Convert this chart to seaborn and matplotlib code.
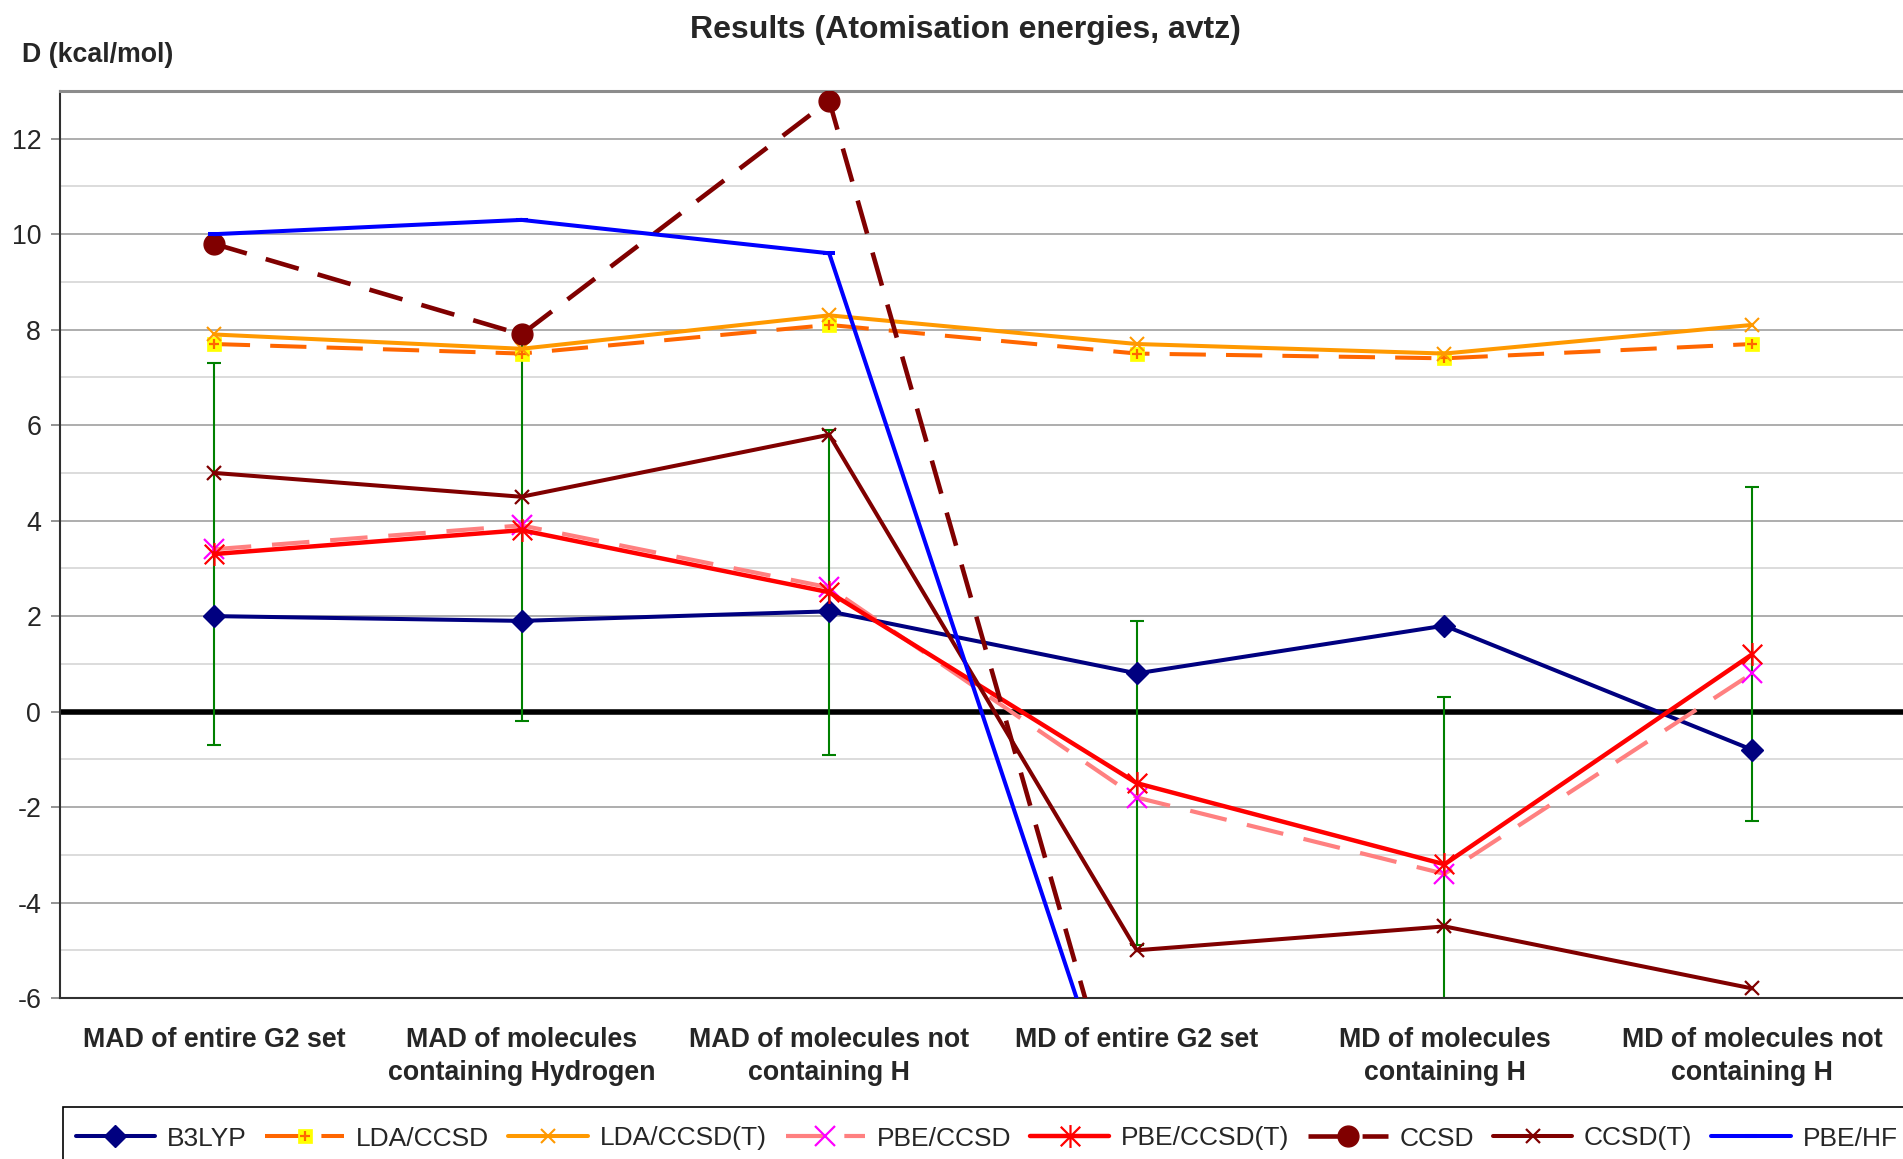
import numpy as np
import matplotlib
matplotlib.use("Agg")
import matplotlib.pyplot as plt
import seaborn as sns
from matplotlib.lines import Line2D
from matplotlib.path import Path
from matplotlib.patches import Rectangle
from matplotlib.legend_handler import HandlerTuple
from matplotlib.ticker import MultipleLocator

# ---- data -------------------------------------------------------------
categories = [
    "MAD of entire G2 set",
    "MAD of molecules\ncontaining Hydrogen",
    "MAD of molecules not\ncontaining H",
    "MD of entire G2 set",
    "MD of molecules\ncontaining H",
    "MD of molecules not\ncontaining H",
]
b3lyp = [2.0, 1.9, 2.1, 0.8, 1.8, -0.8]
lda_ccsd = [7.7, 7.5, 8.1, 7.5, 7.4, 7.7]
lda_ccsd_t = [7.9, 7.6, 8.3, 7.7, 7.5, 8.1]
pbe_ccsd = [3.4, 3.9, 2.6, -1.8, -3.4, 0.8]
pbe_ccsd_t = [3.3, 3.8, 2.5, -1.5, -3.2, 1.2]
pbe_ccsd_t_err = [4.0, 4.0, 3.4, 3.4, 3.5, 3.5]
ccsd = [9.8, 7.9, 12.8, -9.8, np.nan, np.nan]
ccsd_t = [5.0, 4.5, 5.8, -5.0, -4.5, -5.8]
pbe_hf = [10.0, 10.3, 9.6, -9.8, np.nan, np.nan]
y_ticks = [-6, -4, -2, 0, 2, 4, 6, 8, 10, 12]

# ---- style ------------------------------------------------------------
sns.set_style("white")
plt.rcParams["font.family"] = ["Liberation Sans", "DejaVu Sans"]
plt.rcParams["axes.unicode_minus"] = False

FS = 19.3
W, H = 1903, 1159
fig = plt.figure(figsize=(W / 100, H / 100), dpi=100)
ax = fig.add_axes([60 / W, 1 - 998 / H, (1906 - 60) / W, (998 - 91) / H])

x = np.arange(len(categories))

# asterisk marker: vertical bar plus diagonal cross
star = Path(
    [(0, -1), (0, 1), (-0.85, -0.85), (0.85, 0.85), (-0.85, 0.85), (0.85, -0.85)],
    [Path.MOVETO, Path.LINETO] * 3,
)

# spread bars around the PBE/CCSD(T) values
ax.errorbar(x, pbe_ccsd_t, yerr=pbe_ccsd_t_err, fmt="none", ecolor="#008000",
            elinewidth=1.5, capsize=5, capthick=1.5, zorder=2.2)

ax.axhline(0, color="black", lw=4.0, zorder=2.1)

STYLES = {
    "b3lyp": dict(color="#000080", lw=2.9, marker="D", ms=11.5,
                  markerfacecolor="#000080", markeredgecolor="#000080",
                  markeredgewidth=1),
    "lda": dict(color="#FF6600", lw=2.9, dashes=(9, 5), marker="s", ms=9.4,
                markerfacecolor="#FFFF00", markeredgecolor="#FFFF00",
                markeredgewidth=0.5),
    "lda_plus": dict(color="#FF6600", linestyle="none", marker="+", ms=7,
                     markeredgecolor="#FF6600", markeredgewidth=1.6),
    "lda_t": dict(color="#FF9900", lw=2.9, marker="x", ms=9.4,
                  markeredgecolor="#FF9900", markeredgewidth=1.5),
    "pbe": dict(color="#FF8080", lw=3.0, dashes=(9, 5), marker="x", ms=14,
                markeredgecolor="#FF00FF", markeredgewidth=1.6),
    "pbe_t": dict(color="#FF0000", lw=3.2, marker=star, ms=16.5,
                  markerfacecolor="none", markeredgecolor="#FF0000",
                  markeredgewidth=1.6),
    "ccsd": dict(color="#800000", lw=3.3, dashes=(7.5, 4.3), marker="o", ms=15,
                 markerfacecolor="#800000", markeredgecolor="#800000",
                 markeredgewidth=1),
    "ccsd_t": dict(color="#800000", lw=2.9, marker="x", ms=9.4,
                   markeredgecolor="#800000", markeredgewidth=1.6),
    "hf": dict(color="#0000FF", lw=2.9, marker="_", ms=9,
               markeredgecolor="#0000FF", markeredgewidth=2.9),
}


def line(vals, z, key):
    sns.lineplot(x=x, y=vals, ax=ax, errorbar=None, zorder=z, **STYLES[key])


line(b3lyp, 3, "b3lyp")
line(lda_ccsd, 4, "lda")
line(lda_ccsd, 4.1, "lda_plus")
line(lda_ccsd_t, 5, "lda_t")
line(pbe_ccsd, 6, "pbe")
line(pbe_ccsd_t, 7, "pbe_t")
line(ccsd, 8, "ccsd")
line(ccsd_t, 9, "ccsd_t")
line(pbe_hf, 10, "hf")

# ---- axes -------------------------------------------------------------
ax.set_xlim(-0.5, 5.5)
ax.set_ylim(-6, 13)
ax.set_yticks(y_ticks)
ax.set_yticklabels([str(t) for t in y_ticks])
ax.yaxis.set_minor_locator(MultipleLocator(1))
ax.grid(which="major", axis="y", color="#A0A0A0", lw=1.2, zorder=0)
ax.grid(which="minor", axis="y", color="#D6D6D6", lw=1.2, zorder=0)
ax.grid(which="major", axis="x", visible=False)
ax.set_axisbelow(True)

ax.set_xticks(x)
ax.set_xticklabels(categories, fontweight="bold", fontsize=FS, linespacing=1.35)
ax.tick_params(axis="x", length=0, pad=21)
ax.tick_params(axis="y", which="major", labelsize=FS, length=6.5, width=1.2,
               color="#808080", pad=7, left=True)
ax.tick_params(axis="y", which="minor", length=0)
ax.set_xlabel("")
ax.set_ylabel("")

ax.spines["right"].set_visible(False)
ax.spines["top"].set_color("#8C8C8C")
ax.spines["top"].set_linewidth(2.2)
ax.spines["left"].set_color("#303030")
ax.spines["left"].set_linewidth(1.5)
ax.spines["bottom"].set_color("#303030")
ax.spines["bottom"].set_linewidth(1.5)

fig.text(965 / W, 1 - 30 / H, "Results (Atomisation energies, avtz)",
         ha="center", va="center", fontsize=23, fontweight="bold")
fig.text(22 / W, 1 - 55 / H, "D (kcal/mol)", ha="left", va="center",
         fontsize=FS, fontweight="bold")

# ---- legend -----------------------------------------------------------
# legend box runs past the right and bottom edges of the figure
fig.patches.append(Rectangle((63 / W, -0.05), 1.0, 0.05 + 1 - 1107 / H,
                             transform=fig.transFigure, facecolor="white",
                             edgecolor="black", linewidth=1.2, zorder=1))


def proxy(key):
    return Line2D([], [], **STYLES[key])


handles = [proxy("b3lyp"), (proxy("lda"), proxy("lda_plus")), proxy("lda_t"),
           proxy("pbe"), proxy("pbe_t"), proxy("ccsd"), proxy("ccsd_t"),
           proxy("hf")]
labels = ["B3LYP", "LDA/CCSD", "LDA/CCSD(T)", "PBE/CCSD", "PBE/CCSD(T)", "CCSD",
          "CCSD(T)", "PBE/HF"]

leg = fig.legend(
    handles, labels,
    handler_map={tuple: HandlerTuple(ndivide=1)},
    loc="upper left", bbox_to_anchor=(75.5 / W, 1 - 1126.5 / H), ncol=8,
    fontsize=19, frameon=False, borderpad=0, borderaxespad=0,
    handlelength=3.0, handletextpad=0.45, columnspacing=0.72,
)
leg.set_zorder(5)

fig.savefig("out.png", dpi=100)
